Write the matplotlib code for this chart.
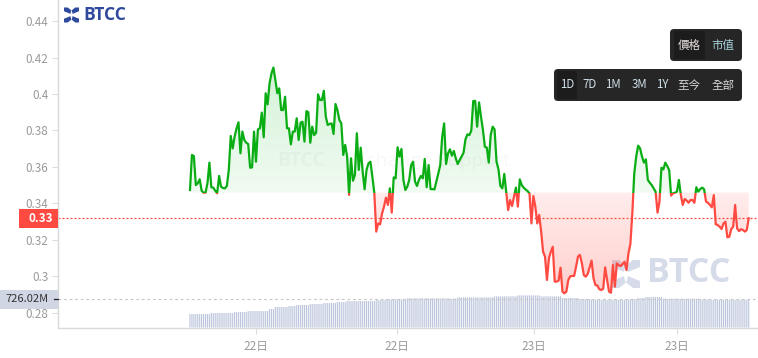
import numpy as np
import matplotlib
matplotlib.use("Agg")
import matplotlib.pyplot as plt
from matplotlib.patches import FancyBboxPatch, Rectangle, Polygon, PathPatch
from matplotlib.path import Path
from matplotlib.colors import LinearSegmentedColormap

plt.rcParams['font.family'] = ['Noto Sans CJK TC', 'DejaVu Sans']

price = [
 .3474,.3666,.3660,.3501,.3511,.3533,.3470,.3459,.3459,.3511,.3624,.3489,.3487,.3470,.3456,.3551,.3492,.3485,.3483,.3496,
 .3584,.3770,.3702,.3766,.3812,.3845,.3675,.3794,.3748,.3733,.3726,.3596,.3598,.3794,.3629,.3806,.3812,.3898,.3763,.4004,
 .3943,.4058,.4113,.4145,.4077,.4004,.4031,.3912,.3912,.3985,.3812,.3812,.3724,.3794,.3794,.3867,.3748,.3843,.3848,.3739,
 .3906,.3900,.3733,.3821,.3775,.3788,.3998,.3967,.3967,.4018,.3876,.3830,.3836,.3839,.3781,.3945,.3912,.3858,.3839,.3666,
 .3721,.3657,.3447,.3648,.3525,.3556,.3785,.3584,.3706,.3575,.3478,.3584,.3620,.3629,.3547,.3459,.3246,.3291,.3286,.3346,
 .3383,.3432,.3392,.3483,.3350,.3543,.3538,.3708,.3657,.3699,.3529,.3474,.3492,.3529,.3611,.3629,.3520,.3496,.3529,.3551,
 .3538,.3644,.3489,.3611,.3479,.3479,.3477,.3520,.3565,.3611,.3766,.3839,.3616,.3675,.3697,.3662,.3688,.3647,.3616,.3638,
 .3657,.3678,.3752,.3779,.3775,.3799,.3962,.3962,.3821,.3954,.3876,.3803,.3711,.3706,.3624,.3775,.3821,.3806,.3629,.3587,
 .3496,.3483,.3562,.3465,.3364,.3419,.3386,.3437,.3487,.3383,.3532,.3501,.3487,.3477,.3468,.3455,.3291,.3441,.3383,.3291,
 .3337,.3246,.3136,.3109,.2981,.3099,.3136,.3163,.2972,.2972,.2977,.3048,.2917,.2908,.2917,.2981,.3001,.3003,.3003,.3054,
 .3109,.3118,.3072,.3008,.2999,.3014,.3050,.3087,.2990,.2953,.2950,.2930,.2926,.2933,.3050,.2981,.2917,.2911,.3063,.2944,
 .3072,.3061,.3057,.3068,.3081,.3035,.3127,.3178,.3346,.3565,.3657,.3717,.3702,.3657,.3624,.3642,.3529,.3514,.3501,.3483,
 .3465,.3350,.3410,.3596,.3587,.3624,.3605,.3583,.3443,.3456,.3459,.3465,.3529,.3447,.3392,.3425,.3416,.3404,.3419,.3419,
 .3404,.3489,.3465,.3479,.3487,.3478,.3410,.3404,.3392,.3379,.3446,.3286,.3282,.3273,.3260,.3291,.3300,.3215,.3218,.3259,
 .3273,.3392,.3264,.3249,.3259,.3255,.3246,.3255,.3319]

volume_levels = [347,373,398,424,475,527,553,578,604,630,655,681,
                 707,725,750,742,776,802,827,802,
                 758,733,714,733,758,784,740,714,726]
volume_counts = [11,12,7,11,3,7,4,7,7,7,5,15,
                 5,11,22,4,19,12,12,11,
                 9,6,20,4,4,9,20,24,1]

x_tick_labels = ['22日', '22日', '23日', '23日']
x_tick_index = [34, 106.8, 177.4, 251]
y_ticks = [0.28, 0.30, 0.32, 0.34, 0.36, 0.38, 0.40, 0.42, 0.44]
y_tick_labels = ['0.28', '0.3', '0.32', '0.34', '0.36', '0.38', '0.4', '0.42', '0.44']
base_price = 0.3460
last_price = 0.3321
last_volume = 726.02

W, H = 758, 358
fig = plt.figure(figsize=(W / 100, H / 100), dpi=100, facecolor='white')

def make_pixel_axes(z):
    a = fig.add_axes([0, 0, 1, 1], zorder=z)
    a.set_xlim(0, W); a.set_ylim(H, 0)
    a.axis('off'); a.patch.set_alpha(0)
    return a

def logo(a, cx, cy, r, color):
    t = 0.5 * r
    for sx, sy in [(1, 1), (-1, 1), (1, -1), (-1, -1)]:
        pts = [(sx * (t * 0.3), sy * (t * 0.3)), (sx * r, sy * (r - t)), (sx * r, sy * r),
               (sx * (r - t), sy * r), (sx * 0.02 * r, sy * 0.62 * r)]
        a.add_patch(Polygon([(cx + p, cy + q) for p, q in pts], closed=True, fc=color, ec='none'))
    s = 0.2 * r
    a.add_patch(Polygon([(cx - s, cy), (cx, cy - s), (cx + s, cy), (cx, cy + s)], closed=True, fc='white', ec='none'))

bg = make_pixel_axes(0)
logo(bg, 71.5, 15, 7.5, '#2f4a9d')
bg.text(83, 15.5, 'BTCC', color='#2f4a9d', fontsize=12.6, fontweight='bold', family='Open Sans', va='center', ha='left')
logo(bg, 626, 274, 14, '#d6dbea')
bg.text(647, 273, 'BTCC', color='#d6dbea', fontsize=24.5, fontweight='bold', family='Open Sans', va='center', ha='left')
bg.text(277, 161, 'BTCC', color='#f8f8f8', fontsize=14, fontweight='bold', family='Open Sans', va='center', ha='left')
bg.text(345, 161, 'Exchange Support', color='#f8f8f8', fontsize=14, family='Open Sans', va='center', ha='left')

ax = fig.add_axes([57.5 / W, (H - 327.5) / H, (W - 57.5) / W, 327.5 / H], zorder=2)
ax.patch.set_alpha(0)

xs = np.arange(len(price))
p = np.array(price)

xlim = ((57.5 - 190) / 1.94, (758 - 190) / 1.94)
ylim = (0.44 - 306.5 / 1825, 0.44 + 21 / 1825)

def gradient_fill(mask, c_near, c_far, y_far):
    poly = ax.fill_between(xs, p, base_price, where=mask, interpolate=True, color='none')
    path = Path.make_compound_path(*poly.get_paths())
    cmap = LinearSegmentedColormap.from_list('g', [c_near, c_far])
    grad = np.linspace(0, 1, 256).reshape(-1, 1)
    im = ax.imshow(grad, extent=(xs[0], xs[-1], base_price, y_far), origin='lower', aspect='auto',
                   cmap=cmap, zorder=1)
    im.set_clip_path(PathPatch(path, transform=ax.transData))
    poly.remove()

gradient_fill(p >= base_price, (0.0, 0.70, 0.10, 0.06), (0.0, 0.70, 0.10, 0.17), p.max())
gradient_fill(p <= base_price, (1.0, 0.28, 0.25, 0.10), (1.0, 0.28, 0.25, 0.26), p.min())

up, = ax.plot(xs, p, color='#0aad14', lw=1.6, zorder=3, solid_joinstyle='round')
dn, = ax.plot(xs, p, color='#ff4a42', lw=1.6, zorder=3, solid_joinstyle='round')
up.set_clip_path(Rectangle((xlim[0], base_price), xlim[1] - xlim[0], ylim[1] - base_price, transform=ax.transData))
dn.set_clip_path(Rectangle((xlim[0], ylim[0]), xlim[1] - xlim[0], base_price - ylim[0], transform=ax.transData))

ax.axhline(last_price, color='#ff4a42', lw=0.9, dashes=(1.6, 1.6), zorder=2)

ax.set_xlim(*xlim); ax.set_ylim(*ylim)
ax.set_yticks(y_ticks); ax.set_yticklabels(y_tick_labels)
ax.set_xticks(x_tick_index); ax.set_xticklabels(x_tick_labels)
ax.tick_params(axis='both', colors='#dddddd', labelcolor='#9a9a9a', labelsize=8.4, length=4, width=0.8, pad=2.5)
ax.tick_params(axis='x', pad=5)
for s in ('top', 'right'):
    ax.spines[s].set_visible(False)
for s in ('left', 'bottom'):
    ax.spines[s].set_color('#d9d9d9'); ax.spines[s].set_linewidth(1)

vol = np.repeat(volume_levels, volume_counts)
axv = ax.twinx()
axv.set_ylim(0, last_volume * 327.5 / 28.2)
bars = axv.bar(xs, vol[:len(xs)], width=0.6, color='#bcc6dc', lw=0, zorder=1)
for b in bars:
    b.set_snap(False)
axv.axhline(last_volume, color='#c8c8c8', lw=0.8, dashes=(2.5, 2.5), zorder=1)
axv.set_xlim(*xlim)
axv.axis('off'); axv.patch.set_alpha(0)

ui = make_pixel_axes(5)
ui.add_patch(Rectangle((19, 209), 39, 19, fc='#ff4a42', ec='none'))
ui.text(40.5, 218.5, '0.33', color='white', fontsize=8.4, fontweight='bold', ha='center', va='center')
ui.add_patch(Rectangle((0, 290), 58, 19, fc='#d0d6e4', ec='none'))
ui.text(27.5, 299, '726.02M', color='#333333', fontsize=8, ha='center', va='center')
ui.plot([54, 58], [299, 299], color='#222222', lw=0.9)

def box(x0, y0, x1, y1, color):
    ui.add_patch(FancyBboxPatch((x0 + 4, y0 + 4), x1 - x0 - 8, y1 - y0 - 8,
                                boxstyle='round,pad=4,rounding_size=4', fc=color, ec='none'))

box(670, 29, 742, 61, '#262626')
ui.add_patch(Rectangle((674, 31), 31, 28, fc='#1c1c1c', ec='none'))
box(554, 69, 742, 101, '#262626')
ui.add_patch(Rectangle((557, 71), 20, 28, fc='#1c1c1c', ec='none'))

for label, cx, cy, c in [('價格', 689, 45, '#e6dcdc'), ('市值', 723, 45, '#a9d3dc'),
                         ('1D', 567, 85, '#cfe0ea'), ('7D', 590, 85, '#cfe0ea'), ('1M', 613, 85, '#cfe0ea'),
                         ('3M', 639, 85, '#cfe0ea'), ('1Y', 662, 85, '#cfe0ea'), ('至今', 689, 85, '#d8d8d8'),
                         ('全部', 723, 85, '#d8d8d8')]:
    ui.text(cx, cy, label, color=c, fontsize=8.3, ha='center', va='center')

fig.savefig('out.png', dpi=100)
